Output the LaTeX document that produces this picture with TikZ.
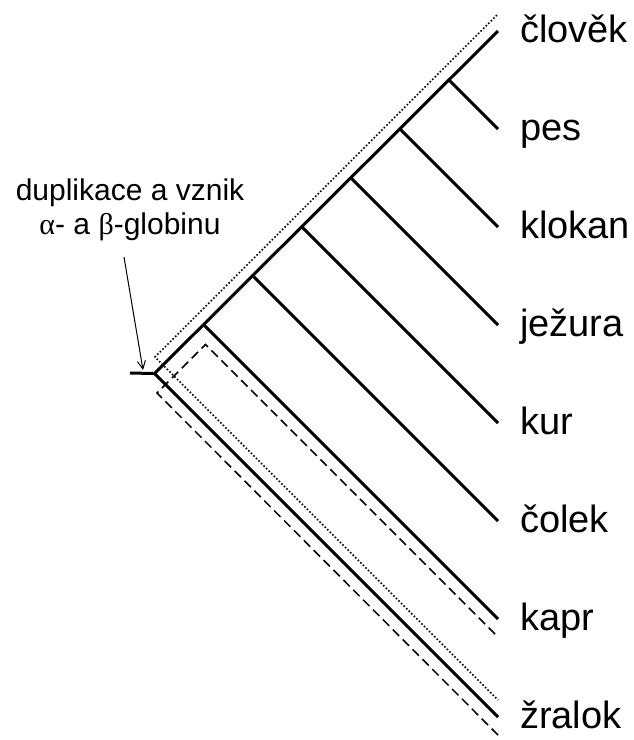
\documentclass[tikz,border=0pt]{standalone}
\usepackage{fontspec}
\setmainfont{Liberation Sans}
\newfontfamily\greekfont{Liberation Serif}
\usepackage{tikz}
\usetikzlibrary{arrows.meta,calc}

\begin{document}
\begin{tikzpicture}[x=1pt,y=-1pt,
    branch/.style={line width=3pt,line join=miter},
    dotpath/.style={line width=1.6pt,dash pattern=on 1.6pt off 2pt},
    dashpath/.style={line width=1.5pt,dash pattern=on 9pt off 5pt},
    pointer/.style={line width=1pt,-{Straight Barb[length=8pt,width=8pt,line width=1pt]}},
    taxon/.style={anchor=base west,inner sep=0pt,font=\fontsize{38}{40}\selectfont},
    note/.style={align=center,anchor=base,inner sep=0pt,font=\fontsize{30}{34}\selectfont}]
    \useasboundingbox (0,0) rectangle (634,740);

    % Leaves and branch points
    \foreach \name [count=\i from 0] in {člověk,pes,klokan,ježura,kur,čolek,kapr,žralok} {
        \pgfmathsetmacro{\ly}{31+98*\i}
        \coordinate (e\i) at (498,\ly);
        \coordinate (b\i) at (513-\ly/2,15+\ly/2);
        \node[taxon] (t\i) at (520,\ly+11) {\name};
    }

    % Main tree
    \coordinate (stub) at (130,373);
    \draw[branch] (e0) -- (b7) -- (e7);
    \draw[branch] (stub) -- (b7);
    \foreach \i in {1,...,6} {
        \draw[branch] (b\i) -- (e\i);
    }

    % Dotted and dashed outlines
    \coordinate (dt1) at (497,15);
    \coordinate (dt2) at (155,357);
    \coordinate (dt3) at (498,700);
    \draw[dotpath] (dt1) -- (dt2) -- (dt3);
    \coordinate (ds1) at (498,735);
    \coordinate (ds2) at (157,393);
    \coordinate (ds3) at (205.5,344.5);
    \coordinate (ds4) at (498,637);
    \draw[dashpath] (ds1) -- (ds2) -- (ds3) -- (ds4);

    % Duplication label
    \node[note] (dup) at (130,234) {duplikace a vznik\\{\greekfont α}- a {\greekfont β}-globinu};
    \coordinate (arrstart) at (124,257);
    \coordinate (arrtip) at (143,370);
    \draw[pointer] (arrstart) -- (arrtip);
\end{tikzpicture}
\end{document}
